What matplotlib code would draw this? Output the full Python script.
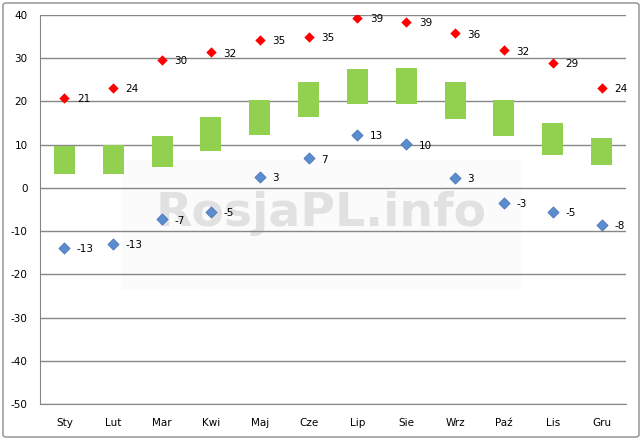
import matplotlib
matplotlib.use("Agg")
import matplotlib.pyplot as plt
from matplotlib.patches import Rectangle, FancyBboxPatch
import numpy as np

months = ["Sty", "Lut", "Mar", "Kwi", "Maj", "Cze", "Lip", "Sie", "Wrz", "Paź", "Lis", "Gru"]
# average min / max (green floating bars)
avg_min = [3.3, 3.1, 4.9, 8.6, 12.3, 16.5, 19.5, 19.5, 16.0, 12.1, 7.7, 5.2]
avg_max = [9.6, 9.9, 12.1, 16.5, 20.4, 24.6, 27.4, 27.8, 24.6, 20.4, 15.0, 11.6]
# record highs (red) and their labels
rec_high = [20.9, 23.2, 29.7, 31.4, 34.3, 34.9, 39.3, 38.4, 35.8, 31.8, 28.9, 23.2]
high_labels = ["21", "24", "30", "32", "35", "35", "39", "39", "36", "32", "29", "24"]
# record lows (blue) and their labels
rec_low = [-13.8, -12.9, -7.3, -5.5, 2.6, 6.8, 12.3, 10.1, 2.4, -3.5, -5.6, -8.6]
low_labels = ["-13", "-13", "-7", "-5", "3", "7", "13", "10", "3", "-3", "-5", "-8"]

plt.rcParams['font.family'] = ['DejaVu Sans']
plt.rcParams['axes.unicode_minus'] = False

fig = plt.figure(figsize=(6.42, 4.40), dpi=100)
ax = fig.add_axes([40 / 642, 36 / 440, 586 / 642, 389 / 440])

x = np.arange(len(months))

# watermark
ax.add_patch(Rectangle((0.14, 0.293), 0.68, 0.334, transform=ax.transAxes,
                       facecolor="#fbfbfb", edgecolor="none", zorder=0))
ax.text(0.48, 0.49, "RosjaPL.info", transform=ax.transAxes, fontsize=34,
        fontweight="bold", color="#e1e1e1", ha="center", va="center", zorder=0.5)

ax.bar(x, np.array(avg_max) - np.array(avg_min), bottom=avg_min, width=0.43,
       color="#92d050", zorder=3)
ax.scatter(x, rec_high, marker="D", s=28, color="#ff0000", zorder=4, linewidths=0)
ax.scatter(x, rec_low, marker="D", s=32, color="#5b8ccf", edgecolors="#4a77b4",
           linewidths=0.6, zorder=4)

for xi, v, lab in zip(x, rec_high, high_labels):
    ax.annotate(lab, (xi, v), xytext=(9, -1), textcoords="offset points",
                fontsize=7.5, va="center", ha="left", color="black", zorder=5)
for xi, v, lab in zip(x, rec_low, low_labels):
    ax.annotate(lab, (xi, v), xytext=(9, -1), textcoords="offset points",
                fontsize=7.5, va="center", ha="left", color="black", zorder=5)

ax.set_xlim(-0.5, 11.5)
ax.set_ylim(-50, 40)
ax.set_yticks(range(-50, 41, 10))
ax.set_xticks(x)
ax.set_xticklabels(months)
ax.yaxis.grid(True, color="#868686", linewidth=1)
ax.set_axisbelow(True)
ax.tick_params(axis="both", length=0, labelsize=7.5)
ax.tick_params(axis="x", pad=10)
ax.tick_params(axis="y", pad=9)
for side in ["top", "right"]:
    ax.spines[side].set_visible(False)
for side in ["left", "bottom"]:
    ax.spines[side].set_color("#868686")

fig.patches.append(FancyBboxPatch((3 / 642, 3 / 440), 636 / 642, 434 / 440,
                                  boxstyle="round,pad=0,rounding_size=0.005",
                                  transform=fig.transFigure, fill=False,
                                  edgecolor="#8c8c8c", linewidth=1))

fig.savefig("out.png", dpi=100)
